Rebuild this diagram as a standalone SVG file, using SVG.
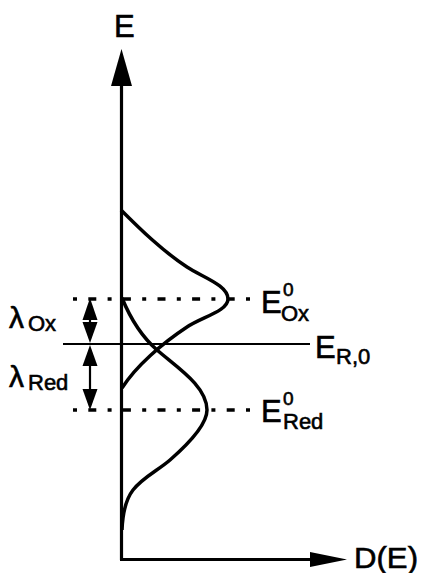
<svg xmlns="http://www.w3.org/2000/svg" width="422" height="573" viewBox="0 0 422 573">
<style>
text{font-family:"Liberation Sans",Arial,sans-serif;fill:#000;stroke:#000;stroke-width:0.6}
.big{font-size:31px}
.sub{font-size:22px}
.sup{font-size:19px}
.lam{font-size:30px}
.ax{stroke:#000;stroke-width:3.2;fill:none}
.crv{stroke:#000;stroke-width:3.5;fill:none;stroke-linejoin:round}
.dd{stroke:#000;stroke-width:3.5;fill:none;stroke-dasharray:4 11.3 8 11.3}
.thin{stroke:#000;stroke-width:2.2;fill:none}
.ah{fill:#000}
</style>
<g id="axes">
<line class="ax" x1="121.5" y1="80" x2="121.5" y2="560"/>
<polygon class="ah" points="121.5,49 111,86 132,86"/>
<line class="ax" x1="120" y1="559.5" x2="315" y2="559.5"/>
<polygon class="ah" points="347,559.5 310,552 310,567"/>
<text class="big" x="114" y="37">E</text>
<text x="354" y="568" font-size="30" textLength="64" lengthAdjust="spacingAndGlyphs">D(E)</text>
</g>
<g id="ox-curve">
<path class="crv" d="M121,210 C141,230 162,250.5 187,267 C202,277 228,285 228,299 C228,311 202,317 187,327 C162,343.5 136,366 122,388"/>
</g>
<g id="red-curve">
<path class="crv" d="M122,298 C130,317.4 141,336 157,350 C176.5,367 207,386 207,410 C207,426 186,446 170,460 C158,470.4 142.8,477.4 133,490 C125,500.3 122.6,515 122,530"/>
</g>
<g id="eox">
<line class="dd" x1="73" y1="299" x2="250" y2="299"/>
<text class="big" x="261" y="313">E</text>
<text class="sup" x="283" y="296">0</text>
<text class="sub" x="281" y="321">Ox</text>
</g>
<g id="ered">
<line class="dd" x1="73" y1="410" x2="250" y2="410"/>
<text class="big" x="261" y="422">E</text>
<text class="sup" x="283" y="405">0</text>
<text class="sub" x="283" y="429">Red</text>
</g>
<g id="er0">
<line class="thin" x1="63" y1="344" x2="310" y2="344"/>
<text class="big" x="315" y="358">E</text>
<text class="sub" x="336" y="364">R,0</text>
</g>
<g id="connectors">
<line class="thin" x1="90" y1="310" x2="90" y2="335"/>
<polygon class="ah" points="90,298 82.5,320 97.5,320"/>
<polygon class="ah" points="90,343 82.5,322 97.5,322"/>
<line class="thin" x1="90" y1="355" x2="90" y2="400"/>
<polygon class="ah" points="90,345 82.5,366 97.5,366"/>
<polygon class="ah" points="90,410 82.5,389 97.5,389"/>
</g>
<g id="lambda-ox">
<text class="lam" x="9" y="328">λ</text>
<text class="sub" x="28" y="331">Ox</text>
</g>
<g id="lambda-red">
<text class="lam" x="9" y="387">λ</text>
<text class="sub" x="28" y="390">Red</text>
</g>
</svg>
